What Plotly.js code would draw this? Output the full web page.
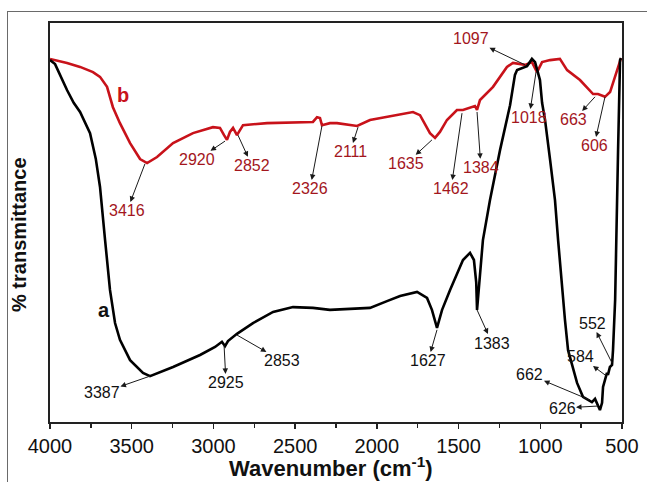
<!DOCTYPE html>
<html>
<head>
<meta charset="utf-8">
<script src="https://cdn.plot.ly/plotly-3.0.1.min.js"></script>
<style>
  html, body { margin: 0; padding: 0; background: #fff; }
  #wrap { position: relative; width: 647px; height: 482px; overflow: hidden; }
  #chart { position: absolute; left: 0; top: 0; width: 647px; height: 482px; }
  #frame { position: absolute; left: 7px; top: 11px; width: 700px; height: 600px;
           border-left: 1.5px solid #6a6a6a; border-top: 1.5px solid #6a6a6a; pointer-events: none; }
</style>
</head>
<body>
<div id="wrap"><div id="chart"></div><div id="frame"></div></div>
<script>
// ---- data (wavenumber cm-1, % transmittance, arbitrary scale) ----
const waveA = [4000,3969,3896,3855,3816,3755,3720,3694,3663,3633,3602,3572,3510,3431,3388,3327,3247,3082,2990,2948,2929,2911,2880,2856,2758,2635,2513,2391,2287,2164,2042,1938,1858,1754,1693,1663,1632,1601,1552,1473,1430,1406,1392,1387,1375,1363,1351,1308,1246,1185,1155,1142,1106,1081,1051,1032,1014,1002,989,971,940,910,891,867,849,830,775,739,708,684,665,647,635,622,616,592,586,574,561,555,542,524,512,506];
const transA = [90.7,89.7,83.2,80.0,77.7,72.4,66.0,58.9,45.6,33.1,24.8,20.6,15.5,12.3,11.5,12.5,13.8,16.8,18.8,20.1,19.0,20.3,21.3,22.1,24.8,27.6,28.8,28.6,28.1,28.3,28.6,30.3,31.6,32.6,31.1,28.1,23.6,28.1,33.1,40.6,42.4,40.6,35.0,28.1,34.3,40.6,45.6,55.6,68.2,79.4,87.0,88.2,88.7,89.2,91.0,90.2,87.5,85.7,80.0,75.7,65.7,55.6,45.6,33.1,25.6,18.0,9.8,6.3,5.5,5.0,5.8,3.8,3.0,4.8,8.8,12.3,11.8,13.8,14.3,18.0,30.6,68.2,90.7,91.2];

const waveB = [4000,3896,3816,3737,3694,3651,3615,3572,3510,3449,3406,3345,3247,3125,3003,2960,2935,2917,2899,2880,2856,2819,2672,2391,2366,2348,2336,2287,2244,2121,2042,1779,1736,1675,1644,1614,1571,1510,1473,1430,1400,1387,1369,1289,1204,1167,1112,1093,1051,1020,989,940,880,836,757,677,647,604,573,530,506];
const transB = [91.0,90.0,89.0,87.7,86.5,84.0,78.9,74.9,69.9,65.9,64.9,66.4,69.9,72.4,73.9,73.7,71.9,70.7,72.7,73.7,71.9,74.4,74.9,75.2,76.4,76.2,74.4,74.9,74.9,74.2,75.7,77.7,76.9,72.4,71.2,72.7,75.7,78.2,78.2,78.7,79.2,78.2,80.7,84.0,89.0,90.0,89.5,89.5,90.2,87.7,90.2,90.7,91.0,88.2,85.7,82.2,82.2,81.5,82.7,88.2,91.2];

const peakLabelsA = ['3387','2925','2853','1627','1383','552','584','662','626'];
const peakLabelsB = ['3416','2920','2852','2326','2111','1635','1462','1384','1097','1018','663','606'];

// label placement: [text x, text y, point on curve x, point y]
const placeA = [
  [3682, 7.3, 3388, 11.5],
  [2923, 9.8, 2935, 19.3],
  [2580, 15.3, 2856, 21.8],
  [1687, 15.3, 1632, 23.1],
  [1295, 19.8, 1387, 28.1],
  [683, 24.8, 561, 14.8],
  [751, 16.3, 604, 11.8],
  [1063, 11.8, 696, 5.5],
  [867, 3.5, 647, 4.0]
];
const placeB = [
  [3529, 52.9, 3419, 64.7],
  [3100, 65.7, 2929, 70.4],
  [2764, 64.2, 2850, 71.9],
  [2409, 58.4, 2336, 74.2],
  [2164, 67.7, 2115, 73.9],
  [1822, 64.7, 1663, 70.7],
  [1546, 58.4, 1479, 77.4],
  [1363, 63.7, 1387, 77.7],
  [1424, 96.0, 1093, 89.5],
  [1069, 76.2, 1026, 87.7],
  [794, 75.7, 665, 81.5],
  [671, 69.2, 604, 81.5]
];

const RED = '#c8121a';
const RED_TEXT = '#a3161d';
const FONT = 'Liberation Sans, Arial, sans-serif';

const annotations = [];
function addLabels(labels, place, color) {
  labels.forEach((t, i) => {
    const p = place[i];
    annotations.push({
      x: p[2], y: p[3], ax: p[0], ay: p[1], axref: 'x', ayref: 'y', xref: 'x', yref: 'y',
      text: t, showarrow: true, arrowside: 'start', arrowhead: 2, startarrowhead: 2,
      arrowsize: 1.1, startarrowsize: 1.1, arrowwidth: 1, arrowcolor: '#1a1a1a',
      standoff: 0, startstandoff: 0, borderpad: 0,
      xanchor: 'center', yanchor: 'middle', font: { family: FONT, size: 16, color: color }
    });
  });
}
addLabels(peakLabelsA, placeA, '#111');
addLabels(peakLabelsB, placeB, RED_TEXT);
annotations.push({ x: 3670, y: 28.1, xref: 'x', yref: 'y', text: '<b>a</b>', showarrow: false,
  font: { family: FONT, size: 20, color: '#111' } });
annotations.push({ x: 3553, y: 82.0, xref: 'x', yref: 'y', text: '<b>b</b>', showarrow: false,
  font: { family: FONT, size: 20, color: RED } });
annotations.push({ x: -0.054, y: 0.469, xref: 'paper', yref: 'paper', text: '<b>% transmittance</b>',
  textangle: -90, showarrow: false, xanchor: 'center', yanchor: 'middle',
  font: { family: FONT, size: 20, color: '#111' } });
annotations.push({ x: 0.491, y: -0.114, xref: 'paper', yref: 'paper', text: '<b>Wavenumber (cm<sup>-1</sup>)</b>',
  showarrow: false, xanchor: 'center', yanchor: 'middle',
  font: { family: FONT, size: 22, color: '#111' } });

const traces = [
  { x: waveB, y: transB, type: 'scatter', mode: 'lines', name: 'b',
    line: { color: RED, width: 2.6 } },
  { x: waveA, y: transA, type: 'scatter', mode: 'lines', name: 'a',
    line: { color: '#000', width: 2.6 } }
];

const layout = {
  width: 647, height: 482,
  margin: { l: 50, r: 25, t: 23, b: 60 },
  paper_bgcolor: 'rgba(0,0,0,0)', plot_bgcolor: '#fff',
  showlegend: false,
  font: { family: FONT, color: '#111' },
  xaxis: {
    range: [4000, 500], dtick: 500, tick0: 0,
    ticks: 'outside', ticklen: 5, tickwidth: 1.5, tickcolor: '#222',
    minor: { dtick: 250, ticks: 'outside', ticklen: 4, tickwidth: 1.5, tickcolor: '#222' },
    showgrid: false, zeroline: false,
    showline: true, mirror: true, linecolor: '#222', linewidth: 1.8,
    tickfont: { family: FONT, size: 20, color: '#111' }
  },
  yaxis: {
    range: [0, 100], showticklabels: false, ticks: '',
    showgrid: false, zeroline: false,
    showline: true, mirror: true, linecolor: '#222', linewidth: 1.8
  },
  annotations: annotations
};

Plotly.newPlot('chart', traces, layout, { staticPlot: true, displayModeBar: false }).then(function () {
  document.querySelectorAll('#chart text').forEach(function (el) {
    if (!el.textContent || !el.textContent.trim()) el.remove();
  });
});
</script>
</body>
</html>
